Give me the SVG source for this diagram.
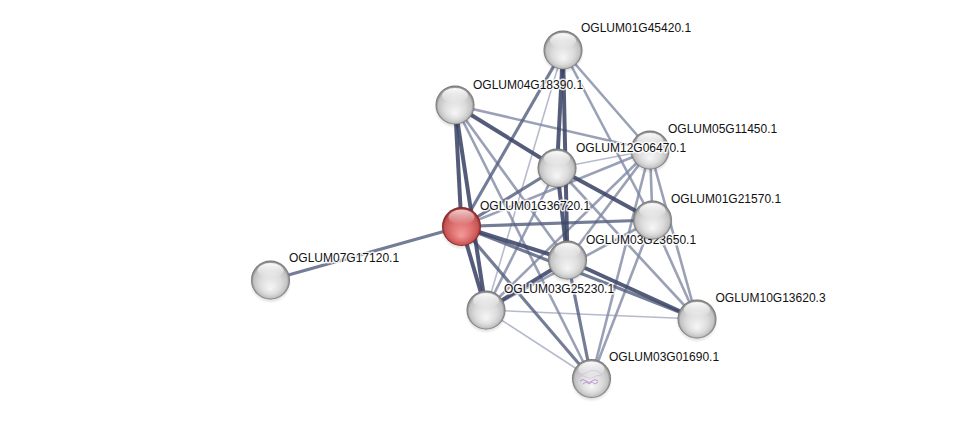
<svg xmlns="http://www.w3.org/2000/svg" xmlns:xlink="http://www.w3.org/1999/xlink" width="975" height="424" viewBox="0 0 975 424">
<style>
  .e { fill: none; stroke-linecap: butt; }
  .t1 { stroke: #3c4668; stroke-width: 4; stroke-opacity: 0.88; }
  .t2 { stroke: #55607f; stroke-width: 3.2; stroke-opacity: 0.82; }
  .t3 { stroke: #7d86a3; stroke-width: 2.6; stroke-opacity: 0.78; }
  .t4 { stroke: #a9aec4; stroke-width: 1.6; stroke-opacity: 0.85; }
  .lbl { font-family: "Liberation Sans", Arial, sans-serif; font-size: 12px; fill: #111111; stroke: #ffffff; stroke-width: 3; stroke-opacity: 0.85; paint-order: stroke; stroke-linejoin: round; }
</style>
<defs>
  <radialGradient id="gGray" cx="0.5" cy="0.5" r="0.5" fx="0.5" fy="0.72">
    <stop offset="0" stop-color="#f6f6f6"/>
    <stop offset="0.55" stop-color="#dcdcdc"/>
    <stop offset="0.86" stop-color="#c2c2c2"/>
    <stop offset="0.95" stop-color="#8c8c8c"/>
    <stop offset="1" stop-color="#707070"/>
  </radialGradient>
  <radialGradient id="gRed" cx="0.5" cy="0.5" r="0.5" fx="0.5" fy="0.74">
    <stop offset="0" stop-color="#f39a9a"/>
    <stop offset="0.55" stop-color="#dd6e6e"/>
    <stop offset="0.86" stop-color="#c85454"/>
    <stop offset="0.95" stop-color="#983030"/>
    <stop offset="1" stop-color="#7a2424"/>
  </radialGradient>
  <linearGradient id="gHl" x1="0" y1="0" x2="0" y2="1">
    <stop offset="0" stop-color="#ffffff" stop-opacity="0.95"/>
    <stop offset="1" stop-color="#ffffff" stop-opacity="0.0"/>
  </linearGradient>
  <radialGradient id="gShadow" cx="0.5" cy="0.5" r="0.5">
    <stop offset="0.7" stop-color="#000000" stop-opacity="0.2"/>
    <stop offset="1" stop-color="#000000" stop-opacity="0"/>
  </radialGradient>
  <g id="ballGray">
    <circle cx="0" cy="2.5" r="21" fill="url(#gShadow)"/>
    <circle cx="0" cy="0" r="19.5" fill="url(#gGray)"/>
    <ellipse cx="0" cy="-9.5" rx="13" ry="7.5" fill="url(#gHl)"/>
  </g>
  <g id="ballRed">
    <circle cx="0" cy="2.5" r="21" fill="url(#gShadow)"/>
    <circle cx="0" cy="0" r="19.5" fill="url(#gRed)"/>
    <ellipse cx="0" cy="-9.5" rx="13" ry="7.5" fill="url(#gHl)" opacity="0.75"/>
  </g>
</defs>
<rect width="975" height="424" fill="#ffffff"/>

<g id="edges">
  <line class="e t2" x1="270.5" y1="280" x2="461.5" y2="226.5"/>
  <line class="e t4" x1="563" y1="50" x2="486" y2="310"/>
  <line class="e t4" x1="486" y1="310" x2="697" y2="319"/>
  <line class="e t4" x1="486" y1="310" x2="591.5" y2="378.5"/>
  <line class="e t4" x1="557" y1="168" x2="650" y2="150"/>
  <line class="e t3" x1="563" y1="50" x2="650" y2="150"/>
  <line class="e t3" x1="563" y1="50" x2="652.5" y2="220"/>
  <line class="e t3" x1="455" y1="105" x2="650" y2="150"/>
  <line class="e t3" x1="455" y1="105" x2="567.5" y2="260"/>
  <line class="e t3" x1="455" y1="105" x2="591.5" y2="378.5"/>
  <line class="e t3" x1="650" y1="150" x2="461.5" y2="226.5"/>
  <line class="e t3" x1="650" y1="150" x2="652.5" y2="220"/>
  <line class="e t3" x1="650" y1="150" x2="567.5" y2="260"/>
  <line class="e t3" x1="650" y1="150" x2="486" y2="310"/>
  <line class="e t3" x1="650" y1="150" x2="591.5" y2="378.5"/>
  <line class="e t3" x1="650" y1="150" x2="697" y2="319"/>
  <line class="e t3" x1="557" y1="168" x2="486" y2="310"/>
  <line class="e t3" x1="557" y1="168" x2="697" y2="319"/>
  <line class="e t3" x1="652.5" y1="220" x2="486" y2="310"/>
  <line class="e t3" x1="652.5" y1="220" x2="591.5" y2="378.5"/>
  <line class="e t3" x1="652.5" y1="220" x2="697" y2="319"/>
  <line class="e t2" x1="461.5" y1="226.5" x2="652.5" y2="220"/>
  <line class="e t2" x1="461.5" y1="226.5" x2="697" y2="319"/>
  <line class="e t2" x1="461.5" y1="226.5" x2="591.5" y2="378.5"/>
  <line class="e t2" x1="461.5" y1="226.5" x2="557" y2="168"/>
  <line class="e t2" x1="563" y1="50" x2="461.5" y2="226.5"/>
  <line class="e t2" x1="567.5" y1="260" x2="591.5" y2="378.5"/>
  <line class="e t1" x1="455" y1="105" x2="461.5" y2="226.5"/>
  <line class="e t1" x1="455" y1="105" x2="486" y2="310"/>
  <line class="e t1" x1="455" y1="105" x2="557" y2="168"/>
  <line class="e t1" x1="563" y1="50" x2="557" y2="168"/>
  <line class="e t1" x1="563" y1="50" x2="567.5" y2="260"/>
  <line class="e t1" x1="557" y1="168" x2="652.5" y2="220"/>
  <line class="e t1" x1="557" y1="168" x2="567.5" y2="260"/>
  <line class="e t1" x1="461.5" y1="226.5" x2="567.5" y2="260"/>
  <line class="e t1" x1="461.5" y1="226.5" x2="486" y2="310"/>
  <line class="e t1" x1="567.5" y1="260" x2="486" y2="310"/>
  <line class="e t1" x1="567.5" y1="260" x2="697" y2="319"/>
</g>

<g id="n-OGLUM07G17120.1">
  <use href="#ballGray" x="270.5" y="280"/>
  <text class="lbl" x="289" y="262">OGLUM07G17120.1</text>
</g>
<g id="n-OGLUM01G45420.1">
  <use href="#ballGray" x="563" y="50"/>
  <text class="lbl" x="581" y="32">OGLUM01G45420.1</text>
</g>
<g id="n-OGLUM04G18390.1">
  <use href="#ballGray" x="455" y="105"/>
  <text class="lbl" x="473" y="89">OGLUM04G18390.1</text>
</g>
<g id="n-OGLUM05G11450.1">
  <use href="#ballGray" x="650" y="150"/>
  <text class="lbl" x="668" y="133">OGLUM05G11450.1</text>
</g>
<g id="n-OGLUM12G06470.1">
  <use href="#ballGray" x="557" y="168"/>
  <text class="lbl" x="576" y="152">OGLUM12G06470.1</text>
</g>
<g id="n-OGLUM01G36720.1">
  <use href="#ballRed" x="461.5" y="226.5"/>
  <text class="lbl" x="480" y="209.5">OGLUM01G36720.1</text>
</g>
<g id="n-OGLUM03G23650.1">
  <use href="#ballGray" x="567.5" y="260"/>
  <text class="lbl" x="586" y="243.5">OGLUM03G23650.1</text>
</g>
<g id="n-OGLUM01G21570.1">
  <use href="#ballGray" x="652.5" y="220"/>
  <text class="lbl" x="671" y="203">OGLUM01G21570.1</text>
</g>
<g id="n-OGLUM03G25230.1">
  <use href="#ballGray" x="486" y="310"/>
  <text class="lbl" x="504" y="292.5">OGLUM03G25230.1</text>
</g>
<g id="n-OGLUM10G13620.3">
  <use href="#ballGray" x="697" y="319"/>
  <text class="lbl" x="715.5" y="302">OGLUM10G13620.3</text>
</g>
<g id="n-OGLUM03G01690.1">
  <use href="#ballGray" x="591.5" y="378.5"/>
  <g fill="none" stroke="#9a5fc4" stroke-width="0.8" opacity="0.75">
    <path d="M580 381 q3 -3 6 0 t6 0 t6 0"/>
    <path d="M583 384 l3 -2 l3 2 l3 -2 l3 2 l3 -2"/>
  </g>
  <g fill="none" stroke="#c9a9dc" stroke-width="0.6" opacity="0.7">
    <path d="M576 373 q6 3 12 -1 t14 2"/>
    <path d="M578 377 q4 -3 8 0 t8 0 t8 -1"/>
  </g>
  <text class="lbl" x="609" y="361">OGLUM03G01690.1</text>
</g>
</svg>
